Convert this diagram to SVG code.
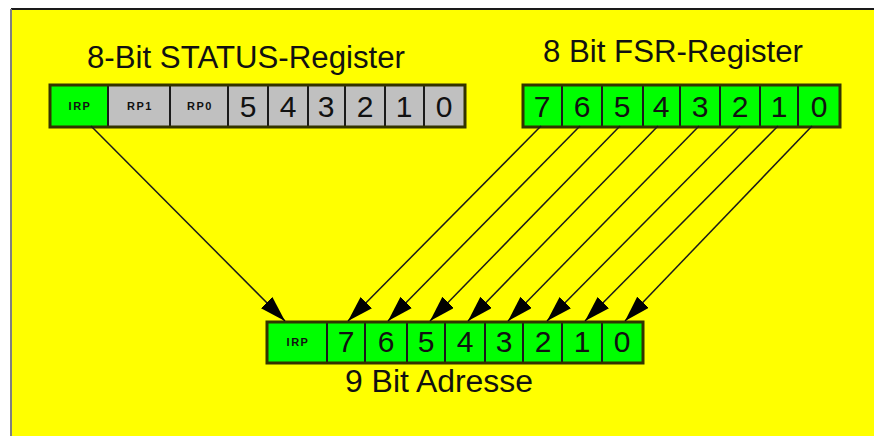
<svg xmlns="http://www.w3.org/2000/svg" width="874" height="436" viewBox="0 0 874 436">
  <defs>
    <style>
      .title { font-family: "Liberation Sans", Arial, sans-serif; font-size: 31px; fill: #111; text-anchor: middle; }
      .digit { font-family: "Liberation Sans", Arial, sans-serif; font-size: 30px; fill: #111; text-anchor: middle; }
      .small { font-family: "Liberation Sans", Arial, sans-serif; font-size: 11px; font-weight: bold; fill: #111; text-anchor: middle; letter-spacing: 1.5px; }
      .g { fill: #00FF00; }
      .s { fill: #C0C0C0; }
      .frame { fill: none; stroke: #333300; stroke-width: 3; }
      .div { stroke: #1a1a1a; stroke-width: 2; }
      .conn { stroke: #1a1a1a; stroke-width: 1.5; fill: none; marker-end: url(#arr); }
    </style>
    <marker id="arr" markerUnits="userSpaceOnUse" markerWidth="28" markerHeight="18" refX="26" refY="8" orient="auto">
      <path d="M0,0 L26,8 L0,16 z" fill="#000"/>
    </marker>
  </defs>

  <rect x="0" y="0" width="874" height="436" fill="#FFFFFF"/>
  <rect x="11" y="9" width="863" height="427" fill="#FFFF00"/>
  <line x1="11" y1="9" x2="874" y2="9" stroke="#1a1a1a" stroke-width="2"/>
  <line x1="11" y1="9" x2="11" y2="436" stroke="#808080" stroke-width="2"/>

  <g id="status-register">
    <text class="title" x="246" y="68" textLength="318" lengthAdjust="spacingAndGlyphs">8-Bit STATUS-Register</text>
    <rect class="g" x="50" y="85" width="58" height="42"/>
    <rect class="s" x="108" y="85" width="357" height="42"/>
    <line class="div" x1="108" y1="85" x2="108" y2="127"/>
    <line class="div" x1="170" y1="85" x2="170" y2="127"/>
    <line class="div" x1="228" y1="85" x2="228" y2="127"/>
    <line class="div" x1="268" y1="85" x2="268" y2="127"/>
    <line class="div" x1="308" y1="85" x2="308" y2="127"/>
    <line class="div" x1="345" y1="85" x2="345" y2="127"/>
    <line class="div" x1="385" y1="85" x2="385" y2="127"/>
    <line class="div" x1="424" y1="85" x2="424" y2="127"/>
    <rect class="frame" x="50" y="85" width="415" height="42"/>
    <text class="small" x="80" y="110">IRP</text>
    <text class="small" x="140" y="110">RP1</text>
    <text class="small" x="200" y="110">RP0</text>
    <text class="digit" x="248" y="117">5</text>
    <text class="digit" x="288" y="117">4</text>
    <text class="digit" x="326" y="117">3</text>
    <text class="digit" x="365" y="117">2</text>
    <text class="digit" x="404" y="117">1</text>
    <text class="digit" x="444" y="117">0</text>
  </g>

  <g id="fsr-register">
    <text class="title" x="673" y="62" textLength="260" lengthAdjust="spacingAndGlyphs">8 Bit FSR-Register</text>
    <rect class="g" x="523" y="85" width="317" height="42"/>
    <line class="div" x1="562" y1="85" x2="562" y2="127"/>
    <line class="div" x1="602" y1="85" x2="602" y2="127"/>
    <line class="div" x1="643" y1="85" x2="643" y2="127"/>
    <line class="div" x1="680" y1="85" x2="680" y2="127"/>
    <line class="div" x1="720" y1="85" x2="720" y2="127"/>
    <line class="div" x1="760" y1="85" x2="760" y2="127"/>
    <line class="div" x1="798" y1="85" x2="798" y2="127"/>
    <rect class="frame" x="523" y="85" width="317" height="42"/>
    <text class="digit" x="542" y="117">7</text>
    <text class="digit" x="582" y="117">6</text>
    <text class="digit" x="622" y="117">5</text>
    <text class="digit" x="661" y="117">4</text>
    <text class="digit" x="700" y="117">3</text>
    <text class="digit" x="740" y="117">2</text>
    <text class="digit" x="779" y="117">1</text>
    <text class="digit" x="819" y="117">0</text>
  </g>

  <g id="address">
    <rect class="g" x="267" y="322" width="376" height="41"/>
    <line class="div" x1="327" y1="322" x2="327" y2="363"/>
    <line class="div" x1="365" y1="322" x2="365" y2="363"/>
    <line class="div" x1="407" y1="322" x2="407" y2="363"/>
    <line class="div" x1="445" y1="322" x2="445" y2="363"/>
    <line class="div" x1="485" y1="322" x2="485" y2="363"/>
    <line class="div" x1="523" y1="322" x2="523" y2="363"/>
    <line class="div" x1="562" y1="322" x2="562" y2="363"/>
    <line class="div" x1="602" y1="322" x2="602" y2="363"/>
    <rect class="frame" x="267" y="322" width="376" height="41"/>
    <text class="small" x="298" y="346">IRP</text>
    <text class="digit" x="346" y="352">7</text>
    <text class="digit" x="386" y="352">6</text>
    <text class="digit" x="426" y="352">5</text>
    <text class="digit" x="465" y="352">4</text>
    <text class="digit" x="504" y="352">3</text>
    <text class="digit" x="543" y="352">2</text>
    <text class="digit" x="582" y="352">1</text>
    <text class="digit" x="622" y="352">0</text>
    <text class="title" x="439" y="392" textLength="188" lengthAdjust="spacingAndGlyphs">9 Bit Adresse</text>
  </g>

  <g id="connectors">
    <line class="conn" x1="91" y1="126" x2="285" y2="321"/>
    <line class="conn" x1="541" y1="126" x2="348" y2="321"/>
    <line class="conn" x1="580" y1="126" x2="388" y2="321"/>
    <line class="conn" x1="620" y1="126" x2="430" y2="321"/>
    <line class="conn" x1="658" y1="126" x2="468" y2="321"/>
    <line class="conn" x1="699" y1="126" x2="508" y2="321"/>
    <line class="conn" x1="740" y1="126" x2="547" y2="321"/>
    <line class="conn" x1="778" y1="126" x2="585" y2="321"/>
    <line class="conn" x1="812" y1="126" x2="625" y2="321"/>
  </g>
</svg>
